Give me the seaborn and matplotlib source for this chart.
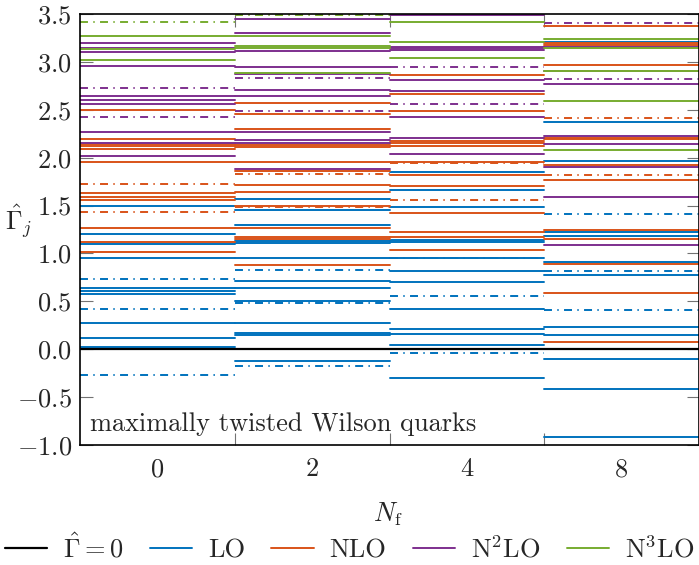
import matplotlib
matplotlib.use('Agg')
import matplotlib.pyplot as plt
import seaborn as sns
import pandas as pd
from matplotlib.lines import Line2D
from matplotlib.ticker import MultipleLocator, NullLocator

# Gamma_hat_j levels per N_f column (0, 2, 4, 8)
nf_labels = ['0', '2', '4', '8']
zero_level = 0.0

lo_solid = [
    [1.50, 1.20, 1.10, 0.955, 0.635, 0.61, 0.58, 0.275, 0.12, 0.02],
    [1.57, 1.45, 1.30, 1.13, 1.105, 0.95, 0.71, 0.635, 0.50, 0.27, 0.17, 0.145, -0.125],
    [1.85, 1.66, 1.48, 1.14, 1.12, 0.955, 0.82, 0.70, 0.42, 0.21, 0.16, 0.04, -0.30],
    [3.21, 2.37, 1.97, 1.22, 1.18, 0.91, 0.77, 0.23, 0.145, -0.10, -0.415, -0.92],
]
lo_dashdot = [
    [0.73, 0.425, -0.27],
    [0.83, 0.485, -0.17],
    [0.955, 0.56, -0.04],
    [1.41, 0.82, 0.41],
]
nlo_solid = [
    [2.50, 2.20, 2.14, 2.12, 2.09, 1.95, 1.635, 1.59, 1.56, 1.27, 1.12, 1.01],
    [2.57, 2.455, 2.30, 2.13, 2.11, 1.95, 1.865, 1.71, 1.64, 1.50, 1.27, 1.175, 1.15, 0.88],
    [2.86, 2.66, 2.49, 2.17, 2.15, 2.12, 1.95, 1.82, 1.70, 1.42, 1.22, 1.175, 1.035],
    [3.37, 3.20, 3.18, 2.97, 2.21, 2.19, 1.92, 1.77, 1.24, 1.15, 0.89, 0.59, 0.08],
]
nlo_dashdot = [
    [1.73, 1.43],
    [1.83, 1.48],
    [1.94, 1.56],
    [2.41, 1.82],
]
n2lo_solid = [
    [3.20, 3.145, 3.10, 2.96, 2.64, 2.60, 2.56, 2.27, 2.15, 2.02],
    [3.45, 3.30, 3.11, 2.95, 2.87, 2.71, 2.64, 2.27, 2.18, 2.15, 1.88],
    [3.49, 3.16, 3.14, 3.12, 2.81, 2.70, 2.42, 2.21, 2.04],
    [3.16, 2.91, 2.77, 2.23, 2.14, 1.90, 1.59, 1.09],
]
n2lo_dashdot = [
    [2.73, 2.42],
    [2.83, 2.49],
    [2.95, 2.56],
    [3.41, 2.82],
]
n3lo_solid = [
    [3.27, 3.13, 3.02],
    [3.27, 3.17, 3.14, 2.88],
    [3.42, 3.21, 3.04],
    [3.24, 3.15, 2.90, 2.59, 2.08],
]
n3lo_dashdot = [
    [3.42],
    [3.49],
    [],
    [],
]

orders = ['LO', 'NLO', 'N2LO', 'N3LO']
order_labels = ['LO', 'NLO', r'N$^2$LO', r'N$^3$LO']
colors = {'LO': '#0072BD', 'NLO': '#D95319', 'N2LO': '#7E2F8E', 'N3LO': '#77AC30'}
series = {
    'LO': (lo_solid, lo_dashdot),
    'NLO': (nlo_solid, nlo_dashdot),
    'N2LO': (n2lo_solid, n2lo_dashdot),
    'N3LO': (n3lo_solid, n3lo_dashdot),
}

# long-form table: every level is a segment spanning its N_f column
rows = []
seg = 0
for order in orders:
    for kind, cols in zip(['solid', 'dashdot'], series[order]):
        for i, vals in enumerate(cols):
            for v in vals:
                rows.append({'seg': seg, 'x': i - 0.5, 'y': v, 'order': order, 'kind': kind})
                rows.append({'seg': seg, 'x': i + 0.5, 'y': v, 'order': order, 'kind': kind})
                seg += 1
df = pd.DataFrame(rows)

sns.set_style('ticks')
plt.rcParams.update({
    'font.family': ['cmr10', 'DejaVu Serif'],
    'mathtext.fontset': 'cm',
    'axes.formatter.use_mathtext': True,
    'axes.unicode_minus': True,
    'font.size': 19,
})

fig = plt.figure(figsize=(6.99, 5.65), dpi=100)
ax = fig.add_axes([80 / 699, 120 / 565, 619 / 699, 431 / 565])

lw = 1.4
sns.lineplot(data=df, x='x', y='y', units='seg', hue='order', style='kind',
             estimator=None, sort=False, palette=colors, hue_order=orders,
             style_order=['solid', 'dashdot'],
             dashes={'solid': '', 'dashdot': (4.1, 2.75, 0.7, 2.75)},
             linewidth=lw, legend=False, ax=ax)
ax.axhline(zero_level, color='k', lw=1.6, zorder=5)

ax.set_xlim(-0.5, 3.5)
ax.set_ylim(-1.0, 3.5)
ax.set_xticks(range(len(nf_labels)))
ax.set_xticklabels(nf_labels)
ax.set_xticks([0.5, 1.5, 2.5], minor=True)
ax.tick_params(axis='x', which='major', length=0, pad=9, labelsize=19)
ax.tick_params(axis='x', which='minor', direction='in', length=9, width=0.8,
               color='0.45', top=True, bottom=True)
ax.yaxis.set_major_locator(MultipleLocator(0.5))
ax.yaxis.set_minor_locator(NullLocator())
ax.tick_params(axis='y', which='major', direction='in', length=9, width=0.8,
               color='0.45', left=True, right=True, pad=6, labelsize=19)
for s in ax.spines.values():
    s.set_color('k')
    s.set_linewidth(1.2)

ax.set_xlabel(r'$N_{\mathrm{f}}$', fontsize=19)
ax.xaxis.set_label_coords(0.497, -0.128)
ax.set_ylabel(r'$\hat{\Gamma}_j$', fontsize=19, rotation=0, ha='center', va='center')
ax.yaxis.set_label_coords(-0.1, 0.517)

ax.text(0.016, 0.032, 'maximally twisted Wilson quarks', transform=ax.transAxes,
        fontsize=19, ha='left', va='baseline')

handles = [Line2D([], [], color='k', lw=1.6)]
handles += [Line2D([], [], color=colors[o], lw=lw) for o in orders]
labels = [r'$\hat{\Gamma} = 0$'] + order_labels
fig.legend(handles, labels, loc='center', bbox_to_anchor=(0.5, 1 - 548 / 565),
           ncol=5, frameon=False, fontsize=19, handlelength=1.6,
           handletextpad=0.6, columnspacing=1.0)

fig.savefig('out.png', dpi=100)
